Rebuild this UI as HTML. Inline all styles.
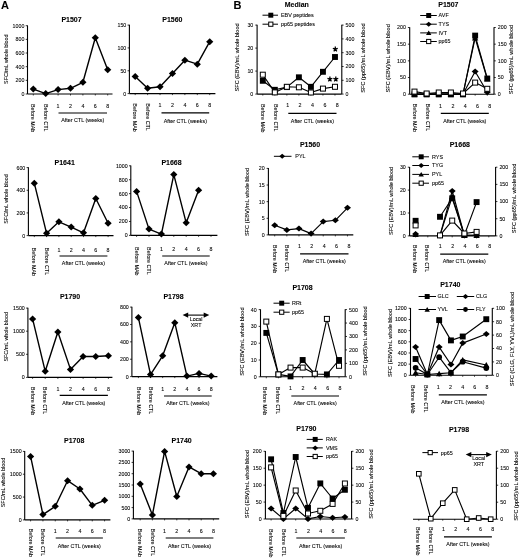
<!DOCTYPE html><html><head><meta charset="utf-8"><style>html,body{margin:0;padding:0;background:#fff;}svg{display:block;}text{font-family:"Liberation Sans",sans-serif;fill:#000;stroke:#000;stroke-width:0.08;}</style></head><body>
<svg width="520" height="558" viewBox="0 0 520 558">
<defs><filter id="bl" x="0" y="0" width="1" height="1" color-interpolation-filters="sRGB"><feGaussianBlur stdDeviation="0.35"/></filter></defs>
<rect width="520" height="558" fill="#fff"/>
<g filter="url(#bl)">
<rect width="520" height="558" fill="#fff"/>
<text x="1.1" y="9" font-size="11" text-anchor="start" font-weight="bold">A</text>
<text x="233.6" y="8.8" font-size="11" text-anchor="start" font-weight="bold">B</text>
<text x="71.5" y="22.12" font-size="7.0" text-anchor="middle" font-weight="bold">P1507</text>
<line x1="27.5" y1="94" x2="27.5" y2="25.4" stroke="#000" stroke-width="1.1"/>
<line x1="25.7" y1="94" x2="27.5" y2="94" stroke="#000" stroke-width="0.8"/>
<text x="24.4" y="95.91" font-size="5.3" text-anchor="end">0</text>
<line x1="25.7" y1="80.34" x2="27.5" y2="80.34" stroke="#000" stroke-width="0.8"/>
<text x="24.4" y="82.25" font-size="5.3" text-anchor="end">200</text>
<line x1="25.7" y1="66.68" x2="27.5" y2="66.68" stroke="#000" stroke-width="0.8"/>
<text x="24.4" y="68.59" font-size="5.3" text-anchor="end">400</text>
<line x1="25.7" y1="53.02" x2="27.5" y2="53.02" stroke="#000" stroke-width="0.8"/>
<text x="24.4" y="54.93" font-size="5.3" text-anchor="end">600</text>
<line x1="25.7" y1="39.36" x2="27.5" y2="39.36" stroke="#000" stroke-width="0.8"/>
<text x="24.4" y="41.27" font-size="5.3" text-anchor="end">800</text>
<line x1="25.7" y1="25.7" x2="27.5" y2="25.7" stroke="#000" stroke-width="0.8"/>
<text x="24.4" y="27.61" font-size="5.3" text-anchor="end">1000</text>
<line x1="27.5" y1="94" x2="112.5" y2="94" stroke="#000" stroke-width="1.1"/>
<line x1="33.3" y1="94" x2="33.3" y2="95.5" stroke="#000" stroke-width="0.7"/>
<line x1="45.7" y1="94" x2="45.7" y2="95.5" stroke="#000" stroke-width="0.7"/>
<line x1="58.1" y1="94" x2="58.1" y2="95.5" stroke="#000" stroke-width="0.7"/>
<line x1="70.5" y1="94" x2="70.5" y2="95.5" stroke="#000" stroke-width="0.7"/>
<line x1="82.9" y1="94" x2="82.9" y2="95.5" stroke="#000" stroke-width="0.7"/>
<line x1="95.3" y1="94" x2="95.3" y2="95.5" stroke="#000" stroke-width="0.7"/>
<line x1="107.7" y1="94" x2="107.7" y2="95.5" stroke="#000" stroke-width="0.7"/>
<text x="31.46" y="103.9" font-size="5.4" text-anchor="start" transform="rotate(90 31.46 103.9)">Before MAb</text>
<text x="43.86" y="103.9" font-size="5.4" text-anchor="start" transform="rotate(90 43.86 103.9)">Before CTL</text>
<text x="58.1" y="107.91" font-size="5.3" text-anchor="middle">1</text>
<text x="70.5" y="107.91" font-size="5.3" text-anchor="middle">2</text>
<text x="82.9" y="107.91" font-size="5.3" text-anchor="middle">4</text>
<text x="95.3" y="107.91" font-size="5.3" text-anchor="middle">6</text>
<text x="107.7" y="107.91" font-size="5.3" text-anchor="middle">8</text>
<line x1="58.5" y1="113" x2="107" y2="113" stroke="#000" stroke-width="1.2"/>
<text x="82.75" y="122.44" font-size="5.4" text-anchor="middle">After CTL (weeks)</text>
<path d="M33.3 89.1L45.7 93.6L58.1 89.6L70.5 88.3L82.9 82.3L95.3 37.7L107.7 69.8" fill="none" stroke="#000" stroke-width="1.4" stroke-linejoin="round"/>
<path d="M29.7 89.1L33.3 85.6L36.9 89.1L33.3 92.6Z" fill="#000"/>
<path d="M42.1 93.6L45.7 90.1L49.3 93.6L45.7 97.1Z" fill="#000"/>
<path d="M54.5 89.6L58.1 86.1L61.7 89.6L58.1 93.1Z" fill="#000"/>
<path d="M66.9 88.3L70.5 84.8L74.1 88.3L70.5 91.8Z" fill="#000"/>
<path d="M79.3 82.3L82.9 78.8L86.5 82.3L82.9 85.8Z" fill="#000"/>
<path d="M91.7 37.7L95.3 34.2L98.9 37.7L95.3 41.2Z" fill="#000"/>
<path d="M104.1 69.8L107.7 66.3L111.3 69.8L107.7 73.3Z" fill="#000"/>
<text x="8.23" y="59.2" font-size="5.35" text-anchor="middle" transform="rotate(-90 8.23 59.2)">SFC/mL whole blood</text>
<text x="172.4" y="22.12" font-size="7.0" text-anchor="middle" font-weight="bold">P1560</text>
<line x1="129.4" y1="93.6" x2="129.4" y2="24.8" stroke="#000" stroke-width="1.1"/>
<line x1="127.6" y1="93.6" x2="129.4" y2="93.6" stroke="#000" stroke-width="0.8"/>
<text x="126.3" y="95.51" font-size="5.3" text-anchor="end">0</text>
<line x1="127.6" y1="70.77" x2="129.4" y2="70.77" stroke="#000" stroke-width="0.8"/>
<text x="126.3" y="72.67" font-size="5.3" text-anchor="end">50</text>
<line x1="127.6" y1="47.93" x2="129.4" y2="47.93" stroke="#000" stroke-width="0.8"/>
<text x="126.3" y="49.84" font-size="5.3" text-anchor="end">100</text>
<line x1="127.6" y1="25.1" x2="129.4" y2="25.1" stroke="#000" stroke-width="0.8"/>
<text x="126.3" y="27.01" font-size="5.3" text-anchor="end">150</text>
<line x1="129.4" y1="93.6" x2="215.4" y2="93.6" stroke="#000" stroke-width="1.1"/>
<line x1="135.2" y1="93.6" x2="135.2" y2="95.1" stroke="#000" stroke-width="0.7"/>
<line x1="147.62" y1="93.6" x2="147.62" y2="95.1" stroke="#000" stroke-width="0.7"/>
<line x1="160.04" y1="93.6" x2="160.04" y2="95.1" stroke="#000" stroke-width="0.7"/>
<line x1="172.46" y1="93.6" x2="172.46" y2="95.1" stroke="#000" stroke-width="0.7"/>
<line x1="184.88" y1="93.6" x2="184.88" y2="95.1" stroke="#000" stroke-width="0.7"/>
<line x1="197.3" y1="93.6" x2="197.3" y2="95.1" stroke="#000" stroke-width="0.7"/>
<line x1="209.72" y1="93.6" x2="209.72" y2="95.1" stroke="#000" stroke-width="0.7"/>
<text x="133.36" y="103.3" font-size="5.4" text-anchor="start" transform="rotate(90 133.36 103.3)">Before MAb</text>
<text x="145.78" y="103.3" font-size="5.4" text-anchor="start" transform="rotate(90 145.78 103.3)">Before CTL</text>
<text x="160.04" y="107.31" font-size="5.3" text-anchor="middle">1</text>
<text x="172.46" y="107.31" font-size="5.3" text-anchor="middle">2</text>
<text x="184.88" y="107.31" font-size="5.3" text-anchor="middle">4</text>
<text x="197.3" y="107.31" font-size="5.3" text-anchor="middle">6</text>
<text x="209.72" y="107.31" font-size="5.3" text-anchor="middle">8</text>
<line x1="161.5" y1="112.9" x2="209.2" y2="112.9" stroke="#000" stroke-width="1.2"/>
<text x="185.35" y="122.94" font-size="5.4" text-anchor="middle">After CTL (weeks)</text>
<path d="M135.2 76.5L147.62 88.3L160.04 86.8L172.46 73.5L184.88 60.2L197.3 64.2L209.72 41.7" fill="none" stroke="#000" stroke-width="1.4" stroke-linejoin="round"/>
<path d="M131.6 76.5L135.2 73L138.8 76.5L135.2 80Z" fill="#000"/>
<path d="M144.02 88.3L147.62 84.8L151.22 88.3L147.62 91.8Z" fill="#000"/>
<path d="M156.44 86.8L160.04 83.3L163.64 86.8L160.04 90.3Z" fill="#000"/>
<path d="M168.86 73.5L172.46 70L176.06 73.5L172.46 77Z" fill="#000"/>
<path d="M181.28 60.2L184.88 56.7L188.48 60.2L184.88 63.7Z" fill="#000"/>
<path d="M193.7 64.2L197.3 60.7L200.9 64.2L197.3 67.7Z" fill="#000"/>
<path d="M206.12 41.7L209.72 38.2L213.32 41.7L209.72 45.2Z" fill="#000"/>
<text x="64.7" y="164.92" font-size="7.0" text-anchor="middle" font-weight="bold">P1641</text>
<line x1="28.4" y1="235.6" x2="28.4" y2="167.3" stroke="#000" stroke-width="1.1"/>
<line x1="26.6" y1="235.6" x2="28.4" y2="235.6" stroke="#000" stroke-width="0.8"/>
<text x="25.3" y="237.51" font-size="5.3" text-anchor="end">0</text>
<line x1="26.6" y1="212.93" x2="28.4" y2="212.93" stroke="#000" stroke-width="0.8"/>
<text x="25.3" y="214.84" font-size="5.3" text-anchor="end">200</text>
<line x1="26.6" y1="190.27" x2="28.4" y2="190.27" stroke="#000" stroke-width="0.8"/>
<text x="25.3" y="192.17" font-size="5.3" text-anchor="end">400</text>
<line x1="26.6" y1="167.6" x2="28.4" y2="167.6" stroke="#000" stroke-width="0.8"/>
<text x="25.3" y="169.51" font-size="5.3" text-anchor="end">600</text>
<line x1="28.4" y1="235.6" x2="113.5" y2="235.6" stroke="#000" stroke-width="1.1"/>
<line x1="34.3" y1="235.6" x2="34.3" y2="237.1" stroke="#000" stroke-width="0.7"/>
<line x1="46.6" y1="235.6" x2="46.6" y2="237.1" stroke="#000" stroke-width="0.7"/>
<line x1="58.9" y1="235.6" x2="58.9" y2="237.1" stroke="#000" stroke-width="0.7"/>
<line x1="71.2" y1="235.6" x2="71.2" y2="237.1" stroke="#000" stroke-width="0.7"/>
<line x1="83.5" y1="235.6" x2="83.5" y2="237.1" stroke="#000" stroke-width="0.7"/>
<line x1="95.8" y1="235.6" x2="95.8" y2="237.1" stroke="#000" stroke-width="0.7"/>
<line x1="108.1" y1="235.6" x2="108.1" y2="237.1" stroke="#000" stroke-width="0.7"/>
<text x="32.46" y="247.6" font-size="5.4" text-anchor="start" transform="rotate(90 32.46 247.6)">Before MAb</text>
<text x="44.76" y="247.6" font-size="5.4" text-anchor="start" transform="rotate(90 44.76 247.6)">Before CTL</text>
<text x="58.9" y="251.61" font-size="5.3" text-anchor="middle">1</text>
<text x="71.2" y="251.61" font-size="5.3" text-anchor="middle">2</text>
<text x="83.5" y="251.61" font-size="5.3" text-anchor="middle">4</text>
<text x="95.8" y="251.61" font-size="5.3" text-anchor="middle">6</text>
<text x="108.1" y="251.61" font-size="5.3" text-anchor="middle">8</text>
<line x1="59.5" y1="256" x2="107.4" y2="256" stroke="#000" stroke-width="1.2"/>
<text x="83.45" y="265.44" font-size="5.4" text-anchor="middle">After CTL (weeks)</text>
<path d="M34.3 183.2L46.6 233.3L58.9 221.8L71.2 227.1L83.5 232.8L95.8 198.5L108.1 223.3" fill="none" stroke="#000" stroke-width="1.4" stroke-linejoin="round"/>
<path d="M30.7 183.2L34.3 179.7L37.9 183.2L34.3 186.7Z" fill="#000"/>
<path d="M43 233.3L46.6 229.8L50.2 233.3L46.6 236.8Z" fill="#000"/>
<path d="M55.3 221.8L58.9 218.3L62.5 221.8L58.9 225.3Z" fill="#000"/>
<path d="M67.6 227.1L71.2 223.6L74.8 227.1L71.2 230.6Z" fill="#000"/>
<path d="M79.9 232.8L83.5 229.3L87.1 232.8L83.5 236.3Z" fill="#000"/>
<path d="M92.2 198.5L95.8 195L99.4 198.5L95.8 202Z" fill="#000"/>
<path d="M104.5 223.3L108.1 219.8L111.7 223.3L108.1 226.8Z" fill="#000"/>
<text x="8.33" y="199" font-size="5.35" text-anchor="middle" transform="rotate(-90 8.33 199)">SFC/mL whole blood</text>
<text x="171.5" y="165.12" font-size="7.0" text-anchor="middle" font-weight="bold">P1668</text>
<line x1="130.8" y1="235.4" x2="130.8" y2="165.5" stroke="#000" stroke-width="1.1"/>
<line x1="129" y1="235.4" x2="130.8" y2="235.4" stroke="#000" stroke-width="0.8"/>
<text x="127.7" y="237.31" font-size="5.3" text-anchor="end">0</text>
<line x1="129" y1="221.48" x2="130.8" y2="221.48" stroke="#000" stroke-width="0.8"/>
<text x="127.7" y="223.39" font-size="5.3" text-anchor="end">200</text>
<line x1="129" y1="207.56" x2="130.8" y2="207.56" stroke="#000" stroke-width="0.8"/>
<text x="127.7" y="209.47" font-size="5.3" text-anchor="end">400</text>
<line x1="129" y1="193.64" x2="130.8" y2="193.64" stroke="#000" stroke-width="0.8"/>
<text x="127.7" y="195.55" font-size="5.3" text-anchor="end">600</text>
<line x1="129" y1="179.72" x2="130.8" y2="179.72" stroke="#000" stroke-width="0.8"/>
<text x="127.7" y="181.63" font-size="5.3" text-anchor="end">800</text>
<line x1="129" y1="165.8" x2="130.8" y2="165.8" stroke="#000" stroke-width="0.8"/>
<text x="127.7" y="167.71" font-size="5.3" text-anchor="end">1000</text>
<line x1="130.8" y1="235.4" x2="217.4" y2="235.4" stroke="#000" stroke-width="1.1"/>
<line x1="136.6" y1="235.4" x2="136.6" y2="236.9" stroke="#000" stroke-width="0.7"/>
<line x1="149" y1="235.4" x2="149" y2="236.9" stroke="#000" stroke-width="0.7"/>
<line x1="161.4" y1="235.4" x2="161.4" y2="236.9" stroke="#000" stroke-width="0.7"/>
<line x1="173.8" y1="235.4" x2="173.8" y2="236.9" stroke="#000" stroke-width="0.7"/>
<line x1="186.2" y1="235.4" x2="186.2" y2="236.9" stroke="#000" stroke-width="0.7"/>
<line x1="198.6" y1="235.4" x2="198.6" y2="236.9" stroke="#000" stroke-width="0.7"/>
<line x1="211" y1="235.4" x2="211" y2="236.9" stroke="#000" stroke-width="0.7"/>
<text x="134.76" y="247.1" font-size="5.4" text-anchor="start" transform="rotate(90 134.76 247.1)">Before MAb</text>
<text x="147.16" y="247.1" font-size="5.4" text-anchor="start" transform="rotate(90 147.16 247.1)">Before CTL</text>
<text x="161.4" y="251.11" font-size="5.3" text-anchor="middle">1</text>
<text x="173.8" y="251.11" font-size="5.3" text-anchor="middle">2</text>
<text x="186.2" y="251.11" font-size="5.3" text-anchor="middle">4</text>
<text x="198.6" y="251.11" font-size="5.3" text-anchor="middle">6</text>
<text x="211" y="251.11" font-size="5.3" text-anchor="middle">8</text>
<line x1="162.2" y1="256" x2="209.7" y2="256" stroke="#000" stroke-width="1.2"/>
<text x="185.95" y="265.44" font-size="5.4" text-anchor="middle">After CTL (weeks)</text>
<path d="M136.6 191.4L149 229.1L161.4 234.1L173.8 174.6L186.2 222.8L198.6 190.2" fill="none" stroke="#000" stroke-width="1.4" stroke-linejoin="round"/>
<path d="M133 191.4L136.6 187.9L140.2 191.4L136.6 194.9Z" fill="#000"/>
<path d="M145.4 229.1L149 225.6L152.6 229.1L149 232.6Z" fill="#000"/>
<path d="M157.8 234.1L161.4 230.6L165 234.1L161.4 237.6Z" fill="#000"/>
<path d="M170.2 174.6L173.8 171.1L177.4 174.6L173.8 178.1Z" fill="#000"/>
<path d="M182.6 222.8L186.2 219.3L189.8 222.8L186.2 226.3Z" fill="#000"/>
<path d="M195 190.2L198.6 186.7L202.2 190.2L198.6 193.7Z" fill="#000"/>
<text x="70" y="298.82" font-size="7.0" text-anchor="middle" font-weight="bold">P1790</text>
<line x1="27.9" y1="377.4" x2="27.9" y2="307.8" stroke="#000" stroke-width="1.1"/>
<line x1="26.1" y1="377.4" x2="27.9" y2="377.4" stroke="#000" stroke-width="0.8"/>
<text x="24.8" y="379.31" font-size="5.3" text-anchor="end">0</text>
<line x1="26.1" y1="354.3" x2="27.9" y2="354.3" stroke="#000" stroke-width="0.8"/>
<text x="24.8" y="356.21" font-size="5.3" text-anchor="end">500</text>
<line x1="26.1" y1="331.2" x2="27.9" y2="331.2" stroke="#000" stroke-width="0.8"/>
<text x="24.8" y="333.11" font-size="5.3" text-anchor="end">1000</text>
<line x1="26.1" y1="308.1" x2="27.9" y2="308.1" stroke="#000" stroke-width="0.8"/>
<text x="24.8" y="310.01" font-size="5.3" text-anchor="end">1500</text>
<line x1="27.9" y1="377.4" x2="112.4" y2="377.4" stroke="#000" stroke-width="1.1"/>
<line x1="32.6" y1="377.4" x2="32.6" y2="378.9" stroke="#000" stroke-width="0.7"/>
<line x1="45.23" y1="377.4" x2="45.23" y2="378.9" stroke="#000" stroke-width="0.7"/>
<line x1="57.86" y1="377.4" x2="57.86" y2="378.9" stroke="#000" stroke-width="0.7"/>
<line x1="70.49" y1="377.4" x2="70.49" y2="378.9" stroke="#000" stroke-width="0.7"/>
<line x1="83.12" y1="377.4" x2="83.12" y2="378.9" stroke="#000" stroke-width="0.7"/>
<line x1="95.75" y1="377.4" x2="95.75" y2="378.9" stroke="#000" stroke-width="0.7"/>
<line x1="108.38" y1="377.4" x2="108.38" y2="378.9" stroke="#000" stroke-width="0.7"/>
<text x="30.76" y="386.8" font-size="5.4" text-anchor="start" transform="rotate(90 30.76 386.8)">Before MAb</text>
<text x="43.39" y="386.8" font-size="5.4" text-anchor="start" transform="rotate(90 43.39 386.8)">Before CTL</text>
<text x="57.86" y="390.81" font-size="5.3" text-anchor="middle">1</text>
<text x="70.49" y="390.81" font-size="5.3" text-anchor="middle">2</text>
<text x="83.12" y="390.81" font-size="5.3" text-anchor="middle">4</text>
<text x="95.75" y="390.81" font-size="5.3" text-anchor="middle">6</text>
<text x="108.38" y="390.81" font-size="5.3" text-anchor="middle">8</text>
<line x1="59.7" y1="395.4" x2="107.9" y2="395.4" stroke="#000" stroke-width="1.2"/>
<text x="83.8" y="404.94" font-size="5.4" text-anchor="middle">After CTL (weeks)</text>
<path d="M32.6 318.9L45.23 371.3L57.86 332L70.49 369.4L83.12 356.5L95.75 356.5L108.38 355.8" fill="none" stroke="#000" stroke-width="1.4" stroke-linejoin="round"/>
<path d="M29 318.9L32.6 315.4L36.2 318.9L32.6 322.4Z" fill="#000"/>
<path d="M41.63 371.3L45.23 367.8L48.83 371.3L45.23 374.8Z" fill="#000"/>
<path d="M54.26 332L57.86 328.5L61.46 332L57.86 335.5Z" fill="#000"/>
<path d="M66.89 369.4L70.49 365.9L74.09 369.4L70.49 372.9Z" fill="#000"/>
<path d="M79.52 356.5L83.12 353L86.72 356.5L83.12 360Z" fill="#000"/>
<path d="M92.15 356.5L95.75 353L99.35 356.5L95.75 360Z" fill="#000"/>
<path d="M104.78 355.8L108.38 352.3L111.98 355.8L108.38 359.3Z" fill="#000"/>
<text x="7.93" y="336.8" font-size="5.35" text-anchor="middle" transform="rotate(-90 7.93 336.8)">SFC/mL whole blood</text>
<text x="173.5" y="298.82" font-size="7.0" text-anchor="middle" font-weight="bold">P1798</text>
<line x1="131.9" y1="376.6" x2="131.9" y2="306.8" stroke="#000" stroke-width="1.1"/>
<line x1="130.1" y1="376.6" x2="131.9" y2="376.6" stroke="#000" stroke-width="0.8"/>
<text x="128.8" y="378.51" font-size="5.3" text-anchor="end">0</text>
<line x1="130.1" y1="359.23" x2="131.9" y2="359.23" stroke="#000" stroke-width="0.8"/>
<text x="128.8" y="361.13" font-size="5.3" text-anchor="end">200</text>
<line x1="130.1" y1="341.85" x2="131.9" y2="341.85" stroke="#000" stroke-width="0.8"/>
<text x="128.8" y="343.76" font-size="5.3" text-anchor="end">400</text>
<line x1="130.1" y1="324.48" x2="131.9" y2="324.48" stroke="#000" stroke-width="0.8"/>
<text x="128.8" y="326.38" font-size="5.3" text-anchor="end">600</text>
<line x1="130.1" y1="307.1" x2="131.9" y2="307.1" stroke="#000" stroke-width="0.8"/>
<text x="128.8" y="309.01" font-size="5.3" text-anchor="end">800</text>
<line x1="131.9" y1="376.6" x2="217.4" y2="376.6" stroke="#000" stroke-width="1.1"/>
<line x1="138.4" y1="376.6" x2="138.4" y2="378.1" stroke="#000" stroke-width="0.7"/>
<line x1="150.53" y1="376.6" x2="150.53" y2="378.1" stroke="#000" stroke-width="0.7"/>
<line x1="162.66" y1="376.6" x2="162.66" y2="378.1" stroke="#000" stroke-width="0.7"/>
<line x1="174.79" y1="376.6" x2="174.79" y2="378.1" stroke="#000" stroke-width="0.7"/>
<line x1="186.92" y1="376.6" x2="186.92" y2="378.1" stroke="#000" stroke-width="0.7"/>
<line x1="199.05" y1="376.6" x2="199.05" y2="378.1" stroke="#000" stroke-width="0.7"/>
<line x1="211.18" y1="376.6" x2="211.18" y2="378.1" stroke="#000" stroke-width="0.7"/>
<text x="136.56" y="386.8" font-size="5.4" text-anchor="start" transform="rotate(90 136.56 386.8)">Before MAb</text>
<text x="148.69" y="386.8" font-size="5.4" text-anchor="start" transform="rotate(90 148.69 386.8)">Before CTL</text>
<text x="162.66" y="390.81" font-size="5.3" text-anchor="middle">1</text>
<text x="174.79" y="390.81" font-size="5.3" text-anchor="middle">2</text>
<text x="186.92" y="390.81" font-size="5.3" text-anchor="middle">4</text>
<text x="199.05" y="390.81" font-size="5.3" text-anchor="middle">6</text>
<text x="211.18" y="390.81" font-size="5.3" text-anchor="middle">8</text>
<line x1="164" y1="396" x2="211.7" y2="396" stroke="#000" stroke-width="1.2"/>
<text x="187.85" y="405.44" font-size="5.4" text-anchor="middle">After CTL (weeks)</text>
<path d="M138.4 317.6L150.53 374.6L162.66 355.8L174.79 322.7L186.92 376.1L199.05 373.4L211.18 376.1" fill="none" stroke="#000" stroke-width="1.4" stroke-linejoin="round"/>
<path d="M134.8 317.6L138.4 314.1L142 317.6L138.4 321.1Z" fill="#000"/>
<path d="M146.93 374.6L150.53 371.1L154.13 374.6L150.53 378.1Z" fill="#000"/>
<path d="M159.06 355.8L162.66 352.3L166.26 355.8L162.66 359.3Z" fill="#000"/>
<path d="M171.19 322.7L174.79 319.2L178.39 322.7L174.79 326.2Z" fill="#000"/>
<path d="M183.32 376.1L186.92 372.6L190.52 376.1L186.92 379.6Z" fill="#000"/>
<path d="M195.45 373.4L199.05 369.9L202.65 373.4L199.05 376.9Z" fill="#000"/>
<path d="M207.58 376.1L211.18 372.6L214.78 376.1L211.18 379.6Z" fill="#000"/>
<line x1="185.6" y1="315.1" x2="206.3" y2="315.1" stroke="#000" stroke-width="1.1"/>
<path d="M182.6 315.1L188.2 312.45L188.2 317.75Z" fill="#000"/>
<path d="M209.3 315.1L203.7 312.45L203.7 317.75Z" fill="#000"/>
<text x="196.1" y="321.14" font-size="5.4" text-anchor="middle">Local</text>
<text x="196.1" y="326.84" font-size="5.4" text-anchor="middle">XRT</text>
<text x="74.2" y="443.12" font-size="7.0" text-anchor="middle" font-weight="bold">P1708</text>
<line x1="24.7" y1="519.9" x2="24.7" y2="451.1" stroke="#000" stroke-width="1.1"/>
<line x1="22.9" y1="519.9" x2="24.7" y2="519.9" stroke="#000" stroke-width="0.8"/>
<text x="21.6" y="521.81" font-size="5.3" text-anchor="end">0</text>
<line x1="22.9" y1="497.07" x2="24.7" y2="497.07" stroke="#000" stroke-width="0.8"/>
<text x="21.6" y="498.97" font-size="5.3" text-anchor="end">500</text>
<line x1="22.9" y1="474.23" x2="24.7" y2="474.23" stroke="#000" stroke-width="0.8"/>
<text x="21.6" y="476.14" font-size="5.3" text-anchor="end">1000</text>
<line x1="22.9" y1="451.4" x2="24.7" y2="451.4" stroke="#000" stroke-width="0.8"/>
<text x="21.6" y="453.31" font-size="5.3" text-anchor="end">1500</text>
<line x1="24.7" y1="519.9" x2="110.4" y2="519.9" stroke="#000" stroke-width="1.1"/>
<line x1="30.6" y1="519.9" x2="30.6" y2="521.4" stroke="#000" stroke-width="0.7"/>
<line x1="42.93" y1="519.9" x2="42.93" y2="521.4" stroke="#000" stroke-width="0.7"/>
<line x1="55.26" y1="519.9" x2="55.26" y2="521.4" stroke="#000" stroke-width="0.7"/>
<line x1="67.59" y1="519.9" x2="67.59" y2="521.4" stroke="#000" stroke-width="0.7"/>
<line x1="79.92" y1="519.9" x2="79.92" y2="521.4" stroke="#000" stroke-width="0.7"/>
<line x1="92.25" y1="519.9" x2="92.25" y2="521.4" stroke="#000" stroke-width="0.7"/>
<line x1="104.58" y1="519.9" x2="104.58" y2="521.4" stroke="#000" stroke-width="0.7"/>
<text x="28.76" y="528.6" font-size="5.4" text-anchor="start" transform="rotate(90 28.76 528.6)">Before MAb</text>
<text x="41.09" y="528.6" font-size="5.4" text-anchor="start" transform="rotate(90 41.09 528.6)">Before CTL</text>
<text x="55.26" y="532.61" font-size="5.3" text-anchor="middle">1</text>
<text x="67.59" y="532.61" font-size="5.3" text-anchor="middle">2</text>
<text x="79.92" y="532.61" font-size="5.3" text-anchor="middle">4</text>
<text x="92.25" y="532.61" font-size="5.3" text-anchor="middle">6</text>
<text x="104.58" y="532.61" font-size="5.3" text-anchor="middle">8</text>
<line x1="55.7" y1="538" x2="102.9" y2="538" stroke="#000" stroke-width="1.2"/>
<text x="79.3" y="547.94" font-size="5.4" text-anchor="middle">After CTL (weeks)</text>
<path d="M30.6 456.4L42.93 514.6L55.26 506.3L67.59 480.7L79.92 489L92.25 505.3L104.58 500.3" fill="none" stroke="#000" stroke-width="1.4" stroke-linejoin="round"/>
<path d="M27 456.4L30.6 452.9L34.2 456.4L30.6 459.9Z" fill="#000"/>
<path d="M39.33 514.6L42.93 511.1L46.53 514.6L42.93 518.1Z" fill="#000"/>
<path d="M51.66 506.3L55.26 502.8L58.86 506.3L55.26 509.8Z" fill="#000"/>
<path d="M63.99 480.7L67.59 477.2L71.19 480.7L67.59 484.2Z" fill="#000"/>
<path d="M76.32 489L79.92 485.5L83.52 489L79.92 492.5Z" fill="#000"/>
<path d="M88.65 505.3L92.25 501.8L95.85 505.3L92.25 508.8Z" fill="#000"/>
<path d="M100.98 500.3L104.58 496.8L108.18 500.3L104.58 503.8Z" fill="#000"/>
<text x="5.33" y="482.5" font-size="5.35" text-anchor="middle" transform="rotate(-90 5.33 482.5)">SFC/mL whole blood</text>
<text x="181.6" y="443.12" font-size="7.0" text-anchor="middle" font-weight="bold">P1740</text>
<line x1="133.4" y1="518.9" x2="133.4" y2="450.8" stroke="#000" stroke-width="1.1"/>
<line x1="131.6" y1="518.9" x2="133.4" y2="518.9" stroke="#000" stroke-width="0.8"/>
<text x="130.3" y="520.81" font-size="5.3" text-anchor="end">0</text>
<line x1="131.6" y1="507.6" x2="133.4" y2="507.6" stroke="#000" stroke-width="0.8"/>
<text x="130.3" y="509.51" font-size="5.3" text-anchor="end">500</text>
<line x1="131.6" y1="496.3" x2="133.4" y2="496.3" stroke="#000" stroke-width="0.8"/>
<text x="130.3" y="498.21" font-size="5.3" text-anchor="end">1000</text>
<line x1="131.6" y1="485" x2="133.4" y2="485" stroke="#000" stroke-width="0.8"/>
<text x="130.3" y="486.91" font-size="5.3" text-anchor="end">1500</text>
<line x1="131.6" y1="473.7" x2="133.4" y2="473.7" stroke="#000" stroke-width="0.8"/>
<text x="130.3" y="475.61" font-size="5.3" text-anchor="end">2000</text>
<line x1="131.6" y1="462.4" x2="133.4" y2="462.4" stroke="#000" stroke-width="0.8"/>
<text x="130.3" y="464.31" font-size="5.3" text-anchor="end">2500</text>
<line x1="131.6" y1="451.1" x2="133.4" y2="451.1" stroke="#000" stroke-width="0.8"/>
<text x="130.3" y="453.01" font-size="5.3" text-anchor="end">3000</text>
<line x1="133.4" y1="518.9" x2="219.2" y2="518.9" stroke="#000" stroke-width="1.1"/>
<line x1="140.2" y1="518.9" x2="140.2" y2="520.4" stroke="#000" stroke-width="0.7"/>
<line x1="152.4" y1="518.9" x2="152.4" y2="520.4" stroke="#000" stroke-width="0.7"/>
<line x1="164.6" y1="518.9" x2="164.6" y2="520.4" stroke="#000" stroke-width="0.7"/>
<line x1="176.8" y1="518.9" x2="176.8" y2="520.4" stroke="#000" stroke-width="0.7"/>
<line x1="189" y1="518.9" x2="189" y2="520.4" stroke="#000" stroke-width="0.7"/>
<line x1="201.2" y1="518.9" x2="201.2" y2="520.4" stroke="#000" stroke-width="0.7"/>
<line x1="213.4" y1="518.9" x2="213.4" y2="520.4" stroke="#000" stroke-width="0.7"/>
<text x="138.36" y="528.6" font-size="5.4" text-anchor="start" transform="rotate(90 138.36 528.6)">Before MAb</text>
<text x="150.56" y="528.6" font-size="5.4" text-anchor="start" transform="rotate(90 150.56 528.6)">Before CTL</text>
<text x="164.6" y="532.61" font-size="5.3" text-anchor="middle">1</text>
<text x="176.8" y="532.61" font-size="5.3" text-anchor="middle">2</text>
<text x="189" y="532.61" font-size="5.3" text-anchor="middle">4</text>
<text x="201.2" y="532.61" font-size="5.3" text-anchor="middle">6</text>
<text x="213.4" y="532.61" font-size="5.3" text-anchor="middle">8</text>
<line x1="165.7" y1="538" x2="213.4" y2="538" stroke="#000" stroke-width="1.2"/>
<text x="189.55" y="547.94" font-size="5.4" text-anchor="middle">After CTL (weeks)</text>
<path d="M140.2 484L152.4 514.9L164.6 451.4L176.8 496.5L189 466.9L201.2 473.7L213.4 473.7" fill="none" stroke="#000" stroke-width="1.4" stroke-linejoin="round"/>
<path d="M136.6 484L140.2 480.5L143.8 484L140.2 487.5Z" fill="#000"/>
<path d="M148.8 514.9L152.4 511.4L156 514.9L152.4 518.4Z" fill="#000"/>
<path d="M161 451.4L164.6 447.9L168.2 451.4L164.6 454.9Z" fill="#000"/>
<path d="M173.2 496.5L176.8 493L180.4 496.5L176.8 500Z" fill="#000"/>
<path d="M185.4 466.9L189 463.4L192.6 466.9L189 470.4Z" fill="#000"/>
<path d="M197.6 473.7L201.2 470.2L204.8 473.7L201.2 477.2Z" fill="#000"/>
<path d="M209.8 473.7L213.4 470.2L217 473.7L213.4 477.2Z" fill="#000"/>
<text x="296.8" y="6.92" font-size="7.0" text-anchor="middle" font-weight="bold">Median</text>
<line x1="257.1" y1="94.1" x2="257.1" y2="24.8" stroke="#000" stroke-width="1.1"/>
<line x1="255.3" y1="94.1" x2="257.1" y2="94.1" stroke="#000" stroke-width="0.8"/>
<text x="253.3" y="96.01" font-size="5.3" text-anchor="end">0</text>
<line x1="255.3" y1="71.1" x2="257.1" y2="71.1" stroke="#000" stroke-width="0.8"/>
<text x="253.3" y="73.01" font-size="5.3" text-anchor="end">10</text>
<line x1="255.3" y1="48.1" x2="257.1" y2="48.1" stroke="#000" stroke-width="0.8"/>
<text x="253.3" y="50.01" font-size="5.3" text-anchor="end">20</text>
<line x1="255.3" y1="25.1" x2="257.1" y2="25.1" stroke="#000" stroke-width="0.8"/>
<text x="253.3" y="27.01" font-size="5.3" text-anchor="end">30</text>
<line x1="341.8" y1="94.1" x2="341.8" y2="24.8" stroke="#000" stroke-width="1.1"/>
<line x1="341.8" y1="94.1" x2="343.6" y2="94.1" stroke="#000" stroke-width="0.8"/>
<text x="345.6" y="96.01" font-size="5.3" text-anchor="start">0</text>
<line x1="341.8" y1="80.3" x2="343.6" y2="80.3" stroke="#000" stroke-width="0.8"/>
<text x="345.6" y="82.21" font-size="5.3" text-anchor="start">100</text>
<line x1="341.8" y1="66.5" x2="343.6" y2="66.5" stroke="#000" stroke-width="0.8"/>
<text x="345.6" y="68.41" font-size="5.3" text-anchor="start">200</text>
<line x1="341.8" y1="52.7" x2="343.6" y2="52.7" stroke="#000" stroke-width="0.8"/>
<text x="345.6" y="54.61" font-size="5.3" text-anchor="start">300</text>
<line x1="341.8" y1="38.9" x2="343.6" y2="38.9" stroke="#000" stroke-width="0.8"/>
<text x="345.6" y="40.81" font-size="5.3" text-anchor="start">400</text>
<line x1="341.8" y1="25.1" x2="343.6" y2="25.1" stroke="#000" stroke-width="0.8"/>
<text x="345.6" y="27.01" font-size="5.3" text-anchor="start">500</text>
<line x1="257.1" y1="94.1" x2="341.8" y2="94.1" stroke="#000" stroke-width="1.1"/>
<line x1="262.8" y1="94.1" x2="262.8" y2="95.6" stroke="#000" stroke-width="0.7"/>
<line x1="274.83" y1="94.1" x2="274.83" y2="95.6" stroke="#000" stroke-width="0.7"/>
<line x1="286.86" y1="94.1" x2="286.86" y2="95.6" stroke="#000" stroke-width="0.7"/>
<line x1="298.89" y1="94.1" x2="298.89" y2="95.6" stroke="#000" stroke-width="0.7"/>
<line x1="310.92" y1="94.1" x2="310.92" y2="95.6" stroke="#000" stroke-width="0.7"/>
<line x1="322.95" y1="94.1" x2="322.95" y2="95.6" stroke="#000" stroke-width="0.7"/>
<line x1="334.98" y1="94.1" x2="334.98" y2="95.6" stroke="#000" stroke-width="0.7"/>
<text x="260.66" y="104" font-size="5.4" text-anchor="start" transform="rotate(90 260.66 104)">Before MAb</text>
<text x="273.66" y="104" font-size="5.4" text-anchor="start" transform="rotate(90 273.66 104)">Before CTL</text>
<text x="287.7" y="107.31" font-size="5.3" text-anchor="middle">1</text>
<text x="300.1" y="107.31" font-size="5.3" text-anchor="middle">2</text>
<text x="312.5" y="107.31" font-size="5.3" text-anchor="middle">4</text>
<text x="324.9" y="107.31" font-size="5.3" text-anchor="middle">6</text>
<text x="337.3" y="107.31" font-size="5.3" text-anchor="middle">8</text>
<line x1="288.3" y1="113.3" x2="336.5" y2="113.3" stroke="#000" stroke-width="1.2"/>
<text x="312.4" y="122.54" font-size="5.4" text-anchor="middle">After CTL (weeks)</text>
<path d="M262.8 80.8L274.83 89.8L286.86 87.1L298.89 77.3L310.92 86.8L322.95 71.8L334.98 57" fill="none" stroke="#000" stroke-width="1.15" stroke-linejoin="round"/>
<path d="M262.8 74.7L274.83 92.4L286.86 86.8L298.89 87.3L310.92 92.5L322.95 88.6L334.98 86.8" fill="none" stroke="#000" stroke-width="1.15" stroke-linejoin="round"/>
<rect x="259.85" y="77.85" width="5.9" height="5.9" fill="#000"/>
<rect x="271.88" y="86.85" width="5.9" height="5.9" fill="#000"/>
<rect x="283.91" y="84.15" width="5.9" height="5.9" fill="#000"/>
<rect x="295.94" y="74.35" width="5.9" height="5.9" fill="#000"/>
<rect x="307.97" y="83.85" width="5.9" height="5.9" fill="#000"/>
<rect x="320" y="68.85" width="5.9" height="5.9" fill="#000"/>
<rect x="332.03" y="54.05" width="5.9" height="5.9" fill="#000"/>
<rect x="260.3" y="72.2" width="5" height="5" fill="#fff" stroke="#000" stroke-width="1.0"/>
<rect x="272.33" y="89.9" width="5" height="5" fill="#fff" stroke="#000" stroke-width="1.0"/>
<rect x="284.36" y="84.3" width="5" height="5" fill="#fff" stroke="#000" stroke-width="1.0"/>
<rect x="296.39" y="84.8" width="5" height="5" fill="#fff" stroke="#000" stroke-width="1.0"/>
<rect x="308.42" y="90" width="5" height="5" fill="#fff" stroke="#000" stroke-width="1.0"/>
<rect x="320.45" y="86.1" width="5" height="5" fill="#fff" stroke="#000" stroke-width="1.0"/>
<rect x="332.48" y="84.3" width="5" height="5" fill="#fff" stroke="#000" stroke-width="1.0"/>
<line x1="262.5" y1="15.2" x2="278" y2="15.2" stroke="#000" stroke-width="1.0"/>
<rect x="268.32" y="12.72" width="4.96" height="4.96" fill="#000"/>
<text x="281" y="17.14" font-size="5.4" text-anchor="start">EBV peptides</text>
<line x1="262.5" y1="24.2" x2="278" y2="24.2" stroke="#000" stroke-width="1.0"/>
<rect x="268.7" y="22.1" width="4.2" height="4.2" fill="#fff" stroke="#000" stroke-width="1.0"/>
<text x="281" y="26.14" font-size="5.4" text-anchor="start">pp65 peptides</text>
<text x="239.42" y="57.4" font-size="5.6" text-anchor="middle" transform="rotate(-90 239.42 57.4)">SFC (EBV)/mL whole blood</text>
<text x="364.92" y="58" font-size="5.6" text-anchor="middle" transform="rotate(-90 364.92 58)">SFC (pp65)/mL whole blood</text>
<path d="M335.3 49.2L335.3 46.6M335.3 49.2L337.77 48.4M335.3 49.2L336.83 51.3M335.3 49.2L333.77 51.3M335.3 49.2L332.83 48.4" stroke="#000" stroke-width="1.3" stroke-linecap="butt" fill="none"/>
<path d="M329.9 79.2L329.9 76.6M329.9 79.2L332.37 78.4M329.9 79.2L331.43 81.3M329.9 79.2L328.37 81.3M329.9 79.2L327.43 78.4" stroke="#000" stroke-width="1.3" stroke-linecap="butt" fill="none"/>
<path d="M335.8 79.2L335.8 76.6M335.8 79.2L338.27 78.4M335.8 79.2L337.33 81.3M335.8 79.2L334.27 81.3M335.8 79.2L333.33 78.4" stroke="#000" stroke-width="1.3" stroke-linecap="butt" fill="none"/>
<text x="448.4" y="6.52" font-size="7.0" text-anchor="middle" font-weight="bold">P1507</text>
<line x1="409.7" y1="94.2" x2="409.7" y2="27.2" stroke="#000" stroke-width="1.1"/>
<line x1="407.9" y1="94.2" x2="409.7" y2="94.2" stroke="#000" stroke-width="0.8"/>
<text x="405.9" y="96.11" font-size="5.3" text-anchor="end">0</text>
<line x1="407.9" y1="77.53" x2="409.7" y2="77.53" stroke="#000" stroke-width="0.8"/>
<text x="405.9" y="79.43" font-size="5.3" text-anchor="end">50</text>
<line x1="407.9" y1="60.85" x2="409.7" y2="60.85" stroke="#000" stroke-width="0.8"/>
<text x="405.9" y="62.76" font-size="5.3" text-anchor="end">100</text>
<line x1="407.9" y1="44.17" x2="409.7" y2="44.17" stroke="#000" stroke-width="0.8"/>
<text x="405.9" y="46.08" font-size="5.3" text-anchor="end">150</text>
<line x1="407.9" y1="27.5" x2="409.7" y2="27.5" stroke="#000" stroke-width="0.8"/>
<text x="405.9" y="29.41" font-size="5.3" text-anchor="end">200</text>
<line x1="494" y1="94.2" x2="494" y2="27.2" stroke="#000" stroke-width="1.1"/>
<line x1="494" y1="94.2" x2="495.8" y2="94.2" stroke="#000" stroke-width="0.8"/>
<text x="497.8" y="96.11" font-size="5.3" text-anchor="start">0</text>
<line x1="494" y1="77.53" x2="495.8" y2="77.53" stroke="#000" stroke-width="0.8"/>
<text x="497.8" y="79.43" font-size="5.3" text-anchor="start">50</text>
<line x1="494" y1="60.85" x2="495.8" y2="60.85" stroke="#000" stroke-width="0.8"/>
<text x="497.8" y="62.76" font-size="5.3" text-anchor="start">100</text>
<line x1="494" y1="44.17" x2="495.8" y2="44.17" stroke="#000" stroke-width="0.8"/>
<text x="497.8" y="46.08" font-size="5.3" text-anchor="start">150</text>
<line x1="494" y1="27.5" x2="495.8" y2="27.5" stroke="#000" stroke-width="0.8"/>
<text x="497.8" y="29.41" font-size="5.3" text-anchor="start">200</text>
<line x1="409.7" y1="94.2" x2="494" y2="94.2" stroke="#000" stroke-width="1.1"/>
<line x1="414.5" y1="94.2" x2="414.5" y2="95.7" stroke="#000" stroke-width="0.7"/>
<line x1="426.63" y1="94.2" x2="426.63" y2="95.7" stroke="#000" stroke-width="0.7"/>
<line x1="438.76" y1="94.2" x2="438.76" y2="95.7" stroke="#000" stroke-width="0.7"/>
<line x1="450.89" y1="94.2" x2="450.89" y2="95.7" stroke="#000" stroke-width="0.7"/>
<line x1="463.02" y1="94.2" x2="463.02" y2="95.7" stroke="#000" stroke-width="0.7"/>
<line x1="475.15" y1="94.2" x2="475.15" y2="95.7" stroke="#000" stroke-width="0.7"/>
<line x1="487.28" y1="94.2" x2="487.28" y2="95.7" stroke="#000" stroke-width="0.7"/>
<text x="412.86" y="103.6" font-size="5.4" text-anchor="start" transform="rotate(90 412.86 103.6)">Before MAb</text>
<text x="425.76" y="103.6" font-size="5.4" text-anchor="start" transform="rotate(90 425.76 103.6)">Before CTL</text>
<text x="440.6" y="107.51" font-size="5.3" text-anchor="middle">1</text>
<text x="452.9" y="107.51" font-size="5.3" text-anchor="middle">2</text>
<text x="465.2" y="107.51" font-size="5.3" text-anchor="middle">4</text>
<text x="477.5" y="107.51" font-size="5.3" text-anchor="middle">6</text>
<text x="489.8" y="107.51" font-size="5.3" text-anchor="middle">8</text>
<line x1="440.8" y1="113.4" x2="488.8" y2="113.4" stroke="#000" stroke-width="1.2"/>
<text x="464.8" y="123.14" font-size="5.4" text-anchor="middle">After CTL (weeks)</text>
<path d="M414.5 94.4L426.63 94.4L438.76 94.4L450.89 94.4L463.02 94.4L475.15 35.6L487.28 78.5" fill="none" stroke="#000" stroke-width="1.15" stroke-linejoin="round"/>
<path d="M414.5 94L426.63 94L438.76 94L450.89 94L463.02 94L475.15 71.5L487.28 92.2" fill="none" stroke="#000" stroke-width="1.15" stroke-linejoin="round"/>
<path d="M414.5 94L426.63 94L438.76 94L450.89 94L463.02 94L475.15 38L487.28 79" fill="none" stroke="#000" stroke-width="1.15" stroke-linejoin="round"/>
<path d="M414.5 91.6L426.63 93.5L438.76 92.5L450.89 92.5L463.02 93.5L475.15 82.6L487.28 88.8" fill="none" stroke="#000" stroke-width="1.15" stroke-linejoin="round"/>
<rect x="411.55" y="91.45" width="5.9" height="5.9" fill="#000"/>
<rect x="423.68" y="91.45" width="5.9" height="5.9" fill="#000"/>
<rect x="435.81" y="91.45" width="5.9" height="5.9" fill="#000"/>
<rect x="447.94" y="91.45" width="5.9" height="5.9" fill="#000"/>
<rect x="460.07" y="91.45" width="5.9" height="5.9" fill="#000"/>
<rect x="472.2" y="32.65" width="5.9" height="5.9" fill="#000"/>
<rect x="484.33" y="75.55" width="5.9" height="5.9" fill="#000"/>
<path d="M411 94L414.5 91L418 94L414.5 97Z" fill="#000"/>
<path d="M423.13 94L426.63 91L430.13 94L426.63 97Z" fill="#000"/>
<path d="M435.26 94L438.76 91L442.26 94L438.76 97Z" fill="#000"/>
<path d="M447.39 94L450.89 91L454.39 94L450.89 97Z" fill="#000"/>
<path d="M459.52 94L463.02 91L466.52 94L463.02 97Z" fill="#000"/>
<path d="M471.65 71.5L475.15 68.5L478.65 71.5L475.15 74.5Z" fill="#000"/>
<path d="M483.78 92.2L487.28 89.2L490.78 92.2L487.28 95.2Z" fill="#000"/>
<path d="M411.3 96.56L414.5 91.12L417.7 96.56Z" fill="#000"/>
<path d="M423.43 96.56L426.63 91.12L429.83 96.56Z" fill="#000"/>
<path d="M435.56 96.56L438.76 91.12L441.96 96.56Z" fill="#000"/>
<path d="M447.69 96.56L450.89 91.12L454.09 96.56Z" fill="#000"/>
<path d="M459.82 96.56L463.02 91.12L466.22 96.56Z" fill="#000"/>
<path d="M471.95 40.56L475.15 35.12L478.35 40.56Z" fill="#000"/>
<path d="M484.08 81.56L487.28 76.12L490.48 81.56Z" fill="#000"/>
<rect x="412" y="89.1" width="5" height="5" fill="#fff" stroke="#000" stroke-width="1.0"/>
<rect x="424.13" y="91" width="5" height="5" fill="#fff" stroke="#000" stroke-width="1.0"/>
<rect x="436.26" y="90" width="5" height="5" fill="#fff" stroke="#000" stroke-width="1.0"/>
<rect x="448.39" y="90" width="5" height="5" fill="#fff" stroke="#000" stroke-width="1.0"/>
<rect x="460.52" y="91" width="5" height="5" fill="#fff" stroke="#000" stroke-width="1.0"/>
<rect x="472.65" y="80.1" width="5" height="5" fill="#fff" stroke="#000" stroke-width="1.0"/>
<rect x="484.78" y="86.3" width="5" height="5" fill="#fff" stroke="#000" stroke-width="1.0"/>
<line x1="420.2" y1="15.5" x2="436.8" y2="15.5" stroke="#000" stroke-width="1.0"/>
<rect x="426.22" y="13.02" width="4.96" height="4.96" fill="#000"/>
<text x="438.6" y="17.44" font-size="5.4" text-anchor="start">AVF</text>
<line x1="420.2" y1="24.2" x2="436.8" y2="24.2" stroke="#000" stroke-width="1.0"/>
<path d="M425.76 24.2L428.7 21.68L431.64 24.2L428.7 26.72Z" fill="#000"/>
<text x="438.6" y="26.14" font-size="5.4" text-anchor="start">TYS</text>
<line x1="420.2" y1="32.9" x2="436.8" y2="32.9" stroke="#000" stroke-width="1.0"/>
<path d="M426.01 35.05L428.7 30.48L431.39 35.05Z" fill="#000"/>
<text x="438.6" y="34.84" font-size="5.4" text-anchor="start">IVT</text>
<line x1="420.2" y1="41.5" x2="436.8" y2="41.5" stroke="#000" stroke-width="1.0"/>
<rect x="426.6" y="39.4" width="4.2" height="4.2" fill="#fff" stroke="#000" stroke-width="1.0"/>
<text x="438.6" y="43.44" font-size="5.4" text-anchor="start">pp65</text>
<text x="390.02" y="58.3" font-size="5.6" text-anchor="middle" transform="rotate(-90 390.02 58.3)">SFC (EBV)/mL whole blood</text>
<text x="513.42" y="59.6" font-size="5.6" text-anchor="middle" transform="rotate(-90 513.42 59.6)">SFC (pp65)/mL whole blood</text>
<text x="310" y="147.12" font-size="7.0" text-anchor="middle" font-weight="bold">P1560</text>
<line x1="268.4" y1="234.9" x2="268.4" y2="168.1" stroke="#000" stroke-width="1.1"/>
<line x1="266.6" y1="234.9" x2="268.4" y2="234.9" stroke="#000" stroke-width="0.8"/>
<text x="264.6" y="236.81" font-size="5.3" text-anchor="end">0</text>
<line x1="266.6" y1="218.28" x2="268.4" y2="218.28" stroke="#000" stroke-width="0.8"/>
<text x="264.6" y="220.18" font-size="5.3" text-anchor="end">5</text>
<line x1="266.6" y1="201.65" x2="268.4" y2="201.65" stroke="#000" stroke-width="0.8"/>
<text x="264.6" y="203.56" font-size="5.3" text-anchor="end">10</text>
<line x1="266.6" y1="185.03" x2="268.4" y2="185.03" stroke="#000" stroke-width="0.8"/>
<text x="264.6" y="186.93" font-size="5.3" text-anchor="end">15</text>
<line x1="266.6" y1="168.4" x2="268.4" y2="168.4" stroke="#000" stroke-width="0.8"/>
<text x="264.6" y="170.31" font-size="5.3" text-anchor="end">20</text>
<line x1="268.4" y1="234.9" x2="353.3" y2="234.9" stroke="#000" stroke-width="1.1"/>
<line x1="274.7" y1="234.9" x2="274.7" y2="236.4" stroke="#000" stroke-width="0.7"/>
<line x1="286.83" y1="234.9" x2="286.83" y2="236.4" stroke="#000" stroke-width="0.7"/>
<line x1="298.96" y1="234.9" x2="298.96" y2="236.4" stroke="#000" stroke-width="0.7"/>
<line x1="311.09" y1="234.9" x2="311.09" y2="236.4" stroke="#000" stroke-width="0.7"/>
<line x1="323.22" y1="234.9" x2="323.22" y2="236.4" stroke="#000" stroke-width="0.7"/>
<line x1="335.35" y1="234.9" x2="335.35" y2="236.4" stroke="#000" stroke-width="0.7"/>
<line x1="347.48" y1="234.9" x2="347.48" y2="236.4" stroke="#000" stroke-width="0.7"/>
<text x="272.76" y="244.8" font-size="5.4" text-anchor="start" transform="rotate(90 272.76 244.8)">Before MAb</text>
<text x="284.96" y="244.8" font-size="5.4" text-anchor="start" transform="rotate(90 284.96 244.8)">Before CTL</text>
<text x="299.4" y="248.41" font-size="5.3" text-anchor="middle">1</text>
<text x="311.8" y="248.41" font-size="5.3" text-anchor="middle">2</text>
<text x="324.2" y="248.41" font-size="5.3" text-anchor="middle">4</text>
<text x="336.6" y="248.41" font-size="5.3" text-anchor="middle">6</text>
<text x="349" y="248.41" font-size="5.3" text-anchor="middle">8</text>
<line x1="300.1" y1="253.9" x2="348.5" y2="253.9" stroke="#000" stroke-width="1.2"/>
<text x="324.3" y="263.14" font-size="5.4" text-anchor="middle">After CTL (weeks)</text>
<path d="M274.7 225.3L286.83 229.9L298.96 228.6L311.09 233.6L323.22 221.6L335.35 220.3L347.48 207.8" fill="none" stroke="#000" stroke-width="1.15" stroke-linejoin="round"/>
<path d="M271.2 225.3L274.7 222.3L278.2 225.3L274.7 228.3Z" fill="#000"/>
<path d="M283.33 229.9L286.83 226.9L290.33 229.9L286.83 232.9Z" fill="#000"/>
<path d="M295.46 228.6L298.96 225.6L302.46 228.6L298.96 231.6Z" fill="#000"/>
<path d="M307.59 233.6L311.09 230.6L314.59 233.6L311.09 236.6Z" fill="#000"/>
<path d="M319.72 221.6L323.22 218.6L326.72 221.6L323.22 224.6Z" fill="#000"/>
<path d="M331.85 220.3L335.35 217.3L338.85 220.3L335.35 223.3Z" fill="#000"/>
<path d="M343.98 207.8L347.48 204.8L350.98 207.8L347.48 210.8Z" fill="#000"/>
<line x1="273.9" y1="156.3" x2="291.5" y2="156.3" stroke="#000" stroke-width="1.0"/>
<path d="M279.26 156.3L282.2 153.78L285.14 156.3L282.2 158.82Z" fill="#000"/>
<text x="295.3" y="158.24" font-size="5.4" text-anchor="start">PYL</text>
<text x="249.42" y="202" font-size="5.6" text-anchor="middle" transform="rotate(-90 249.42 202)">SFC (EBV)/mL whole blood</text>
<text x="459.8" y="146.82" font-size="7.0" text-anchor="middle" font-weight="bold">P1668</text>
<line x1="409.6" y1="235.9" x2="409.6" y2="166.9" stroke="#000" stroke-width="1.1"/>
<line x1="407.8" y1="235.9" x2="409.6" y2="235.9" stroke="#000" stroke-width="0.8"/>
<text x="405.8" y="237.81" font-size="5.3" text-anchor="end">0</text>
<line x1="407.8" y1="213" x2="409.6" y2="213" stroke="#000" stroke-width="0.8"/>
<text x="405.8" y="214.91" font-size="5.3" text-anchor="end">10</text>
<line x1="407.8" y1="190.1" x2="409.6" y2="190.1" stroke="#000" stroke-width="0.8"/>
<text x="405.8" y="192.01" font-size="5.3" text-anchor="end">20</text>
<line x1="407.8" y1="167.2" x2="409.6" y2="167.2" stroke="#000" stroke-width="0.8"/>
<text x="405.8" y="169.11" font-size="5.3" text-anchor="end">30</text>
<line x1="495.6" y1="235.9" x2="495.6" y2="166.9" stroke="#000" stroke-width="1.1"/>
<line x1="495.6" y1="235.9" x2="497.4" y2="235.9" stroke="#000" stroke-width="0.8"/>
<text x="499.4" y="237.81" font-size="5.3" text-anchor="start">0</text>
<line x1="495.6" y1="218.72" x2="497.4" y2="218.72" stroke="#000" stroke-width="0.8"/>
<text x="499.4" y="220.63" font-size="5.3" text-anchor="start">50</text>
<line x1="495.6" y1="201.55" x2="497.4" y2="201.55" stroke="#000" stroke-width="0.8"/>
<text x="499.4" y="203.46" font-size="5.3" text-anchor="start">100</text>
<line x1="495.6" y1="184.38" x2="497.4" y2="184.38" stroke="#000" stroke-width="0.8"/>
<text x="499.4" y="186.28" font-size="5.3" text-anchor="start">150</text>
<line x1="495.6" y1="167.2" x2="497.4" y2="167.2" stroke="#000" stroke-width="0.8"/>
<text x="499.4" y="169.11" font-size="5.3" text-anchor="start">200</text>
<line x1="409.6" y1="235.9" x2="495.6" y2="235.9" stroke="#000" stroke-width="1.1"/>
<line x1="415.6" y1="235.9" x2="415.6" y2="237.4" stroke="#000" stroke-width="0.7"/>
<line x1="427.8" y1="235.9" x2="427.8" y2="237.4" stroke="#000" stroke-width="0.7"/>
<line x1="440" y1="235.9" x2="440" y2="237.4" stroke="#000" stroke-width="0.7"/>
<line x1="452.2" y1="235.9" x2="452.2" y2="237.4" stroke="#000" stroke-width="0.7"/>
<line x1="464.4" y1="235.9" x2="464.4" y2="237.4" stroke="#000" stroke-width="0.7"/>
<line x1="476.6" y1="235.9" x2="476.6" y2="237.4" stroke="#000" stroke-width="0.7"/>
<line x1="488.8" y1="235.9" x2="488.8" y2="237.4" stroke="#000" stroke-width="0.7"/>
<text x="413.16" y="244.8" font-size="5.4" text-anchor="start" transform="rotate(90 413.16 244.8)">Before MAb</text>
<text x="425.46" y="244.8" font-size="5.4" text-anchor="start" transform="rotate(90 425.46 244.8)">Before CTL</text>
<text x="440.3" y="248.41" font-size="5.3" text-anchor="middle">1</text>
<text x="452.65" y="248.41" font-size="5.3" text-anchor="middle">2</text>
<text x="465" y="248.41" font-size="5.3" text-anchor="middle">4</text>
<text x="477.35" y="248.41" font-size="5.3" text-anchor="middle">6</text>
<text x="489.7" y="248.41" font-size="5.3" text-anchor="middle">8</text>
<line x1="440.2" y1="254.1" x2="488.3" y2="254.1" stroke="#000" stroke-width="1.2"/>
<text x="464.25" y="263.14" font-size="5.4" text-anchor="middle">After CTL (weeks)</text>
<path d="M415.6 220.8M440 216.8L452.2 198.3L464.4 235L476.6 202.1" fill="none" stroke="#000" stroke-width="1.15" stroke-linejoin="round"/>
<path d="M415.6 234M440 235.4L452.2 191L464.4 235.4L476.6 235.4" fill="none" stroke="#000" stroke-width="1.15" stroke-linejoin="round"/>
<path d="M415.6 234.5M440 235.4L452.2 196.6L464.4 235.4L476.6 235.4" fill="none" stroke="#000" stroke-width="1.15" stroke-linejoin="round"/>
<path d="M415.6 225.4M440 235.4L452.2 220.6L464.4 233.5L476.6 231.9" fill="none" stroke="#000" stroke-width="1.15" stroke-linejoin="round"/>
<rect x="412.65" y="217.85" width="5.9" height="5.9" fill="#000"/>
<rect x="437.05" y="213.85" width="5.9" height="5.9" fill="#000"/>
<rect x="449.25" y="195.35" width="5.9" height="5.9" fill="#000"/>
<rect x="461.45" y="232.05" width="5.9" height="5.9" fill="#000"/>
<rect x="473.65" y="199.15" width="5.9" height="5.9" fill="#000"/>
<path d="M412.1 234L415.6 231L419.1 234L415.6 237Z" fill="#000"/>
<path d="M436.5 235.4L440 232.4L443.5 235.4L440 238.4Z" fill="#000"/>
<path d="M448.7 191L452.2 188L455.7 191L452.2 194Z" fill="#000"/>
<path d="M460.9 235.4L464.4 232.4L467.9 235.4L464.4 238.4Z" fill="#000"/>
<path d="M473.1 235.4L476.6 232.4L480.1 235.4L476.6 238.4Z" fill="#000"/>
<path d="M412.4 237.06L415.6 231.62L418.8 237.06Z" fill="#000"/>
<path d="M436.8 237.96L440 232.52L443.2 237.96Z" fill="#000"/>
<path d="M449 199.16L452.2 193.72L455.4 199.16Z" fill="#000"/>
<path d="M461.2 237.96L464.4 232.52L467.6 237.96Z" fill="#000"/>
<path d="M473.4 237.96L476.6 232.52L479.8 237.96Z" fill="#000"/>
<rect x="413.1" y="222.9" width="5" height="5" fill="#fff" stroke="#000" stroke-width="1.0"/>
<rect x="437.5" y="232.9" width="5" height="5" fill="#fff" stroke="#000" stroke-width="1.0"/>
<rect x="449.7" y="218.1" width="5" height="5" fill="#fff" stroke="#000" stroke-width="1.0"/>
<rect x="461.9" y="231" width="5" height="5" fill="#fff" stroke="#000" stroke-width="1.0"/>
<rect x="474.1" y="229.4" width="5" height="5" fill="#fff" stroke="#000" stroke-width="1.0"/>
<line x1="412.3" y1="156.8" x2="429" y2="156.8" stroke="#000" stroke-width="1.0"/>
<rect x="418.72" y="154.32" width="4.96" height="4.96" fill="#000"/>
<text x="432" y="158.74" font-size="5.4" text-anchor="start">RYS</text>
<line x1="412.3" y1="165.5" x2="429" y2="165.5" stroke="#000" stroke-width="1.0"/>
<path d="M418.26 165.5L421.2 162.98L424.14 165.5L421.2 168.02Z" fill="#000"/>
<text x="432" y="167.44" font-size="5.4" text-anchor="start">TYG</text>
<line x1="412.3" y1="174.4" x2="429" y2="174.4" stroke="#000" stroke-width="1.0"/>
<path d="M418.51 176.55L421.2 171.98L423.89 176.55Z" fill="#000"/>
<text x="432" y="176.34" font-size="5.4" text-anchor="start">PYL</text>
<line x1="412.3" y1="183.2" x2="429" y2="183.2" stroke="#000" stroke-width="1.0"/>
<rect x="419.1" y="181.1" width="4.2" height="4.2" fill="#fff" stroke="#000" stroke-width="1.0"/>
<text x="432" y="185.14" font-size="5.4" text-anchor="start">pp65</text>
<text x="392.72" y="200.9" font-size="5.6" text-anchor="middle" transform="rotate(-90 392.72 200.9)">SFC (EBV)/mL whole blood</text>
<text x="515.52" y="198.4" font-size="5.6" text-anchor="middle" transform="rotate(-90 515.52 198.4)">SFC (pp65)/mL whole blood</text>
<text x="302.5" y="290.12" font-size="7.0" text-anchor="middle" font-weight="bold">P1708</text>
<line x1="260.5" y1="376.8" x2="260.5" y2="309.3" stroke="#000" stroke-width="1.1"/>
<line x1="258.7" y1="376.8" x2="260.5" y2="376.8" stroke="#000" stroke-width="0.8"/>
<text x="256.7" y="378.71" font-size="5.3" text-anchor="end">0</text>
<line x1="258.7" y1="360" x2="260.5" y2="360" stroke="#000" stroke-width="0.8"/>
<text x="256.7" y="361.91" font-size="5.3" text-anchor="end">10</text>
<line x1="258.7" y1="343.2" x2="260.5" y2="343.2" stroke="#000" stroke-width="0.8"/>
<text x="256.7" y="345.11" font-size="5.3" text-anchor="end">20</text>
<line x1="258.7" y1="326.4" x2="260.5" y2="326.4" stroke="#000" stroke-width="0.8"/>
<text x="256.7" y="328.31" font-size="5.3" text-anchor="end">30</text>
<line x1="258.7" y1="309.6" x2="260.5" y2="309.6" stroke="#000" stroke-width="0.8"/>
<text x="256.7" y="311.51" font-size="5.3" text-anchor="end">40</text>
<line x1="345.2" y1="376.8" x2="345.2" y2="309.3" stroke="#000" stroke-width="1.1"/>
<line x1="345.2" y1="376.8" x2="347" y2="376.8" stroke="#000" stroke-width="0.8"/>
<text x="349" y="378.71" font-size="5.3" text-anchor="start">0</text>
<line x1="345.2" y1="363.36" x2="347" y2="363.36" stroke="#000" stroke-width="0.8"/>
<text x="349" y="365.27" font-size="5.3" text-anchor="start">100</text>
<line x1="345.2" y1="349.92" x2="347" y2="349.92" stroke="#000" stroke-width="0.8"/>
<text x="349" y="351.83" font-size="5.3" text-anchor="start">200</text>
<line x1="345.2" y1="336.48" x2="347" y2="336.48" stroke="#000" stroke-width="0.8"/>
<text x="349" y="338.39" font-size="5.3" text-anchor="start">300</text>
<line x1="345.2" y1="323.04" x2="347" y2="323.04" stroke="#000" stroke-width="0.8"/>
<text x="349" y="324.95" font-size="5.3" text-anchor="start">400</text>
<line x1="345.2" y1="309.6" x2="347" y2="309.6" stroke="#000" stroke-width="0.8"/>
<text x="349" y="311.51" font-size="5.3" text-anchor="start">500</text>
<line x1="260.5" y1="376.8" x2="345.2" y2="376.8" stroke="#000" stroke-width="1.1"/>
<line x1="266.3" y1="376.8" x2="266.3" y2="378.3" stroke="#000" stroke-width="0.7"/>
<line x1="278.42" y1="376.8" x2="278.42" y2="378.3" stroke="#000" stroke-width="0.7"/>
<line x1="290.54" y1="376.8" x2="290.54" y2="378.3" stroke="#000" stroke-width="0.7"/>
<line x1="302.66" y1="376.8" x2="302.66" y2="378.3" stroke="#000" stroke-width="0.7"/>
<line x1="314.78" y1="376.8" x2="314.78" y2="378.3" stroke="#000" stroke-width="0.7"/>
<line x1="326.9" y1="376.8" x2="326.9" y2="378.3" stroke="#000" stroke-width="0.7"/>
<line x1="339.02" y1="376.8" x2="339.02" y2="378.3" stroke="#000" stroke-width="0.7"/>
<text x="263.36" y="386.8" font-size="5.4" text-anchor="start" transform="rotate(90 263.36 386.8)">Before MAb</text>
<text x="275.86" y="386.8" font-size="5.4" text-anchor="start" transform="rotate(90 275.86 386.8)">Before CTL</text>
<text x="290.6" y="390.01" font-size="5.3" text-anchor="middle">1</text>
<text x="302.95" y="390.01" font-size="5.3" text-anchor="middle">2</text>
<text x="315.3" y="390.01" font-size="5.3" text-anchor="middle">4</text>
<text x="327.65" y="390.01" font-size="5.3" text-anchor="middle">6</text>
<text x="340" y="390.01" font-size="5.3" text-anchor="middle">8</text>
<line x1="291.3" y1="396" x2="339" y2="396" stroke="#000" stroke-width="1.2"/>
<text x="315.15" y="405.24" font-size="5.4" text-anchor="middle">After CTL (weeks)</text>
<path d="M266.3 332.9L278.42 374.4L290.54 376.4L302.66 360L314.78 374L326.9 374.4L339.02 360" fill="none" stroke="#000" stroke-width="1.15" stroke-linejoin="round"/>
<path d="M266.3 321.6L278.42 374.4L290.54 367.6L302.66 367.6L314.78 373.7L326.9 318.9L339.02 365.8" fill="none" stroke="#000" stroke-width="1.15" stroke-linejoin="round"/>
<rect x="263.35" y="329.95" width="5.9" height="5.9" fill="#000"/>
<rect x="275.47" y="371.45" width="5.9" height="5.9" fill="#000"/>
<rect x="287.59" y="373.45" width="5.9" height="5.9" fill="#000"/>
<rect x="299.71" y="357.05" width="5.9" height="5.9" fill="#000"/>
<rect x="311.83" y="371.05" width="5.9" height="5.9" fill="#000"/>
<rect x="323.95" y="371.45" width="5.9" height="5.9" fill="#000"/>
<rect x="336.07" y="357.05" width="5.9" height="5.9" fill="#000"/>
<rect x="263.8" y="319.1" width="5" height="5" fill="#fff" stroke="#000" stroke-width="1.0"/>
<rect x="275.92" y="371.9" width="5" height="5" fill="#fff" stroke="#000" stroke-width="1.0"/>
<rect x="288.04" y="365.1" width="5" height="5" fill="#fff" stroke="#000" stroke-width="1.0"/>
<rect x="300.16" y="365.1" width="5" height="5" fill="#fff" stroke="#000" stroke-width="1.0"/>
<rect x="312.28" y="371.2" width="5" height="5" fill="#fff" stroke="#000" stroke-width="1.0"/>
<rect x="324.4" y="316.4" width="5" height="5" fill="#fff" stroke="#000" stroke-width="1.0"/>
<rect x="336.52" y="363.3" width="5" height="5" fill="#fff" stroke="#000" stroke-width="1.0"/>
<line x1="273.5" y1="303.2" x2="289.7" y2="303.2" stroke="#000" stroke-width="1.0"/>
<rect x="279.22" y="300.72" width="4.96" height="4.96" fill="#000"/>
<text x="292" y="305.14" font-size="5.4" text-anchor="start">RRt</text>
<line x1="273.5" y1="312.2" x2="289.7" y2="312.2" stroke="#000" stroke-width="1.0"/>
<rect x="279.6" y="310.1" width="4.2" height="4.2" fill="#fff" stroke="#000" stroke-width="1.0"/>
<text x="292" y="314.14" font-size="5.4" text-anchor="start">pp65</text>
<text x="243.52" y="341.6" font-size="5.6" text-anchor="middle" transform="rotate(-90 243.52 341.6)">SFC (EBV)/mL whole blood</text>
<text x="366.62" y="341" font-size="5.6" text-anchor="middle" transform="rotate(-90 366.62 341)">SFC (pp65)/mL whole blood</text>
<text x="450.3" y="287.32" font-size="7.0" text-anchor="middle" font-weight="bold">P1740</text>
<line x1="410.5" y1="375.3" x2="410.5" y2="308" stroke="#000" stroke-width="1.1"/>
<line x1="408.7" y1="375.3" x2="410.5" y2="375.3" stroke="#000" stroke-width="0.8"/>
<text x="406.7" y="377.21" font-size="5.3" text-anchor="end">0</text>
<line x1="408.7" y1="364.13" x2="410.5" y2="364.13" stroke="#000" stroke-width="0.8"/>
<text x="406.7" y="366.04" font-size="5.3" text-anchor="end">200</text>
<line x1="408.7" y1="352.97" x2="410.5" y2="352.97" stroke="#000" stroke-width="0.8"/>
<text x="406.7" y="354.87" font-size="5.3" text-anchor="end">400</text>
<line x1="408.7" y1="341.8" x2="410.5" y2="341.8" stroke="#000" stroke-width="0.8"/>
<text x="406.7" y="343.71" font-size="5.3" text-anchor="end">600</text>
<line x1="408.7" y1="330.63" x2="410.5" y2="330.63" stroke="#000" stroke-width="0.8"/>
<text x="406.7" y="332.54" font-size="5.3" text-anchor="end">800</text>
<line x1="408.7" y1="319.47" x2="410.5" y2="319.47" stroke="#000" stroke-width="0.8"/>
<text x="406.7" y="321.37" font-size="5.3" text-anchor="end">1000</text>
<line x1="408.7" y1="308.3" x2="410.5" y2="308.3" stroke="#000" stroke-width="0.8"/>
<text x="406.7" y="310.21" font-size="5.3" text-anchor="end">1200</text>
<line x1="492.3" y1="375.3" x2="492.3" y2="308" stroke="#000" stroke-width="1.1"/>
<line x1="492.3" y1="375.3" x2="494.1" y2="375.3" stroke="#000" stroke-width="0.8"/>
<text x="496.1" y="377.21" font-size="5.3" text-anchor="start">0</text>
<line x1="492.3" y1="361.9" x2="494.1" y2="361.9" stroke="#000" stroke-width="0.8"/>
<text x="496.1" y="363.81" font-size="5.3" text-anchor="start">20</text>
<line x1="492.3" y1="348.5" x2="494.1" y2="348.5" stroke="#000" stroke-width="0.8"/>
<text x="496.1" y="350.41" font-size="5.3" text-anchor="start">40</text>
<line x1="492.3" y1="335.1" x2="494.1" y2="335.1" stroke="#000" stroke-width="0.8"/>
<text x="496.1" y="337.01" font-size="5.3" text-anchor="start">60</text>
<line x1="492.3" y1="321.7" x2="494.1" y2="321.7" stroke="#000" stroke-width="0.8"/>
<text x="496.1" y="323.61" font-size="5.3" text-anchor="start">80</text>
<line x1="492.3" y1="308.3" x2="494.1" y2="308.3" stroke="#000" stroke-width="0.8"/>
<text x="496.1" y="310.21" font-size="5.3" text-anchor="start">100</text>
<line x1="410.5" y1="375.3" x2="492.3" y2="375.3" stroke="#000" stroke-width="1.1"/>
<line x1="415.6" y1="375.3" x2="415.6" y2="376.8" stroke="#000" stroke-width="0.7"/>
<line x1="427.38" y1="375.3" x2="427.38" y2="376.8" stroke="#000" stroke-width="0.7"/>
<line x1="439.16" y1="375.3" x2="439.16" y2="376.8" stroke="#000" stroke-width="0.7"/>
<line x1="450.94" y1="375.3" x2="450.94" y2="376.8" stroke="#000" stroke-width="0.7"/>
<line x1="462.72" y1="375.3" x2="462.72" y2="376.8" stroke="#000" stroke-width="0.7"/>
<line x1="474.5" y1="375.3" x2="474.5" y2="376.8" stroke="#000" stroke-width="0.7"/>
<line x1="486.28" y1="375.3" x2="486.28" y2="376.8" stroke="#000" stroke-width="0.7"/>
<text x="410.86" y="385" font-size="5.4" text-anchor="start" transform="rotate(90 410.86 385)">Before MAb</text>
<text x="423.76" y="385" font-size="5.4" text-anchor="start" transform="rotate(90 423.76 385)">Before CTL</text>
<text x="438.3" y="389.01" font-size="5.3" text-anchor="middle">1</text>
<text x="450.47" y="389.01" font-size="5.3" text-anchor="middle">2</text>
<text x="462.64" y="389.01" font-size="5.3" text-anchor="middle">4</text>
<text x="474.81" y="389.01" font-size="5.3" text-anchor="middle">6</text>
<text x="486.98" y="389.01" font-size="5.3" text-anchor="middle">8</text>
<line x1="438.8" y1="394.9" x2="486.9" y2="394.9" stroke="#000" stroke-width="1.2"/>
<text x="462.85" y="403.94" font-size="5.4" text-anchor="middle">After CTL (weeks)</text>
<path d="M415.6 359L427.38 374.5L439.16 320.1L450.94 340.4L462.72 336.5L486.28 319.2" fill="none" stroke="#000" stroke-width="1.15" stroke-linejoin="round"/>
<path d="M415.6 347.1L427.38 374.5L439.16 347.1L450.94 364.5L462.72 343.1L486.28 334" fill="none" stroke="#000" stroke-width="1.15" stroke-linejoin="round"/>
<path d="M415.6 372.7L427.38 374.5L439.16 373.6L450.94 372.7L462.72 359.9L486.28 365" fill="none" stroke="#000" stroke-width="1.15" stroke-linejoin="round"/>
<path d="M415.6 367.8L427.38 374.5L439.16 357.2L450.94 372.7L462.72 361.7L486.28 368.1" fill="none" stroke="#000" stroke-width="1.15" stroke-linejoin="round"/>
<rect x="412.65" y="356.05" width="5.9" height="5.9" fill="#000"/>
<rect x="424.43" y="371.55" width="5.9" height="5.9" fill="#000"/>
<rect x="436.21" y="317.15" width="5.9" height="5.9" fill="#000"/>
<rect x="447.99" y="337.45" width="5.9" height="5.9" fill="#000"/>
<rect x="459.77" y="333.55" width="5.9" height="5.9" fill="#000"/>
<rect x="483.33" y="316.25" width="5.9" height="5.9" fill="#000"/>
<path d="M412.1 347.1L415.6 344.1L419.1 347.1L415.6 350.1Z" fill="#000"/>
<path d="M423.88 374.5L427.38 371.5L430.88 374.5L427.38 377.5Z" fill="#000"/>
<path d="M435.66 347.1L439.16 344.1L442.66 347.1L439.16 350.1Z" fill="#000"/>
<path d="M447.44 364.5L450.94 361.5L454.44 364.5L450.94 367.5Z" fill="#000"/>
<path d="M459.22 343.1L462.72 340.1L466.22 343.1L462.72 346.1Z" fill="#000"/>
<path d="M482.78 334L486.28 331L489.78 334L486.28 337Z" fill="#000"/>
<path d="M412.4 375.26L415.6 369.82L418.8 375.26Z" fill="#000"/>
<path d="M424.18 377.06L427.38 371.62L430.58 377.06Z" fill="#000"/>
<path d="M435.96 376.16L439.16 370.72L442.36 376.16Z" fill="#000"/>
<path d="M447.74 375.26L450.94 369.82L454.14 375.26Z" fill="#000"/>
<path d="M459.52 362.46L462.72 357.02L465.92 362.46Z" fill="#000"/>
<path d="M483.08 367.56L486.28 362.12L489.48 367.56Z" fill="#000"/>
<circle cx="415.6" cy="367.8" r="2.85" fill="#000"/>
<circle cx="427.38" cy="374.5" r="2.85" fill="#000"/>
<circle cx="439.16" cy="357.2" r="2.85" fill="#000"/>
<circle cx="450.94" cy="372.7" r="2.85" fill="#000"/>
<circle cx="462.72" cy="361.7" r="2.85" fill="#000"/>
<circle cx="486.28" cy="368.1" r="2.85" fill="#000"/>
<line x1="418.6" y1="296.5" x2="436" y2="296.5" stroke="#000" stroke-width="1.0"/>
<rect x="424.72" y="294.02" width="4.96" height="4.96" fill="#000"/>
<text x="437.6" y="298.44" font-size="5.4" text-anchor="start">GLC</text>
<line x1="456.8" y1="296.5" x2="474.2" y2="296.5" stroke="#000" stroke-width="1.0"/>
<path d="M462.56 296.5L465.5 293.98L468.44 296.5L465.5 299.02Z" fill="#000"/>
<text x="476" y="298.44" font-size="5.4" text-anchor="start">CLG</text>
<line x1="418.6" y1="309.5" x2="436" y2="309.5" stroke="#000" stroke-width="1.0"/>
<path d="M424.51 311.65L427.2 307.08L429.89 311.65Z" fill="#000"/>
<text x="437.6" y="311.44" font-size="5.4" text-anchor="start">YVL</text>
<line x1="456.8" y1="309.5" x2="474.2" y2="309.5" stroke="#000" stroke-width="1.0"/>
<circle cx="465.5" cy="309.5" r="2.39" fill="#000"/>
<text x="476" y="311.44" font-size="5.4" text-anchor="start">FLY</text>
<text x="391.92" y="343" font-size="5.6" text-anchor="middle" transform="rotate(-90 391.92 343)">SFC (EBV)/mL whole blood</text>
<text x="514.32" y="339" font-size="5.6" text-anchor="middle" transform="rotate(-90 514.32 339)">SFC (CLG, FLY, YVL)/mL whole blood</text>
<text x="306.4" y="431.12" font-size="7.0" text-anchor="middle" font-weight="bold">P1790</text>
<line x1="265.4" y1="519" x2="265.4" y2="451" stroke="#000" stroke-width="1.1"/>
<line x1="263.6" y1="519" x2="265.4" y2="519" stroke="#000" stroke-width="0.8"/>
<text x="261.6" y="520.91" font-size="5.3" text-anchor="end">0</text>
<line x1="263.6" y1="502.07" x2="265.4" y2="502.07" stroke="#000" stroke-width="0.8"/>
<text x="261.6" y="503.98" font-size="5.3" text-anchor="end">50</text>
<line x1="263.6" y1="485.15" x2="265.4" y2="485.15" stroke="#000" stroke-width="0.8"/>
<text x="261.6" y="487.06" font-size="5.3" text-anchor="end">100</text>
<line x1="263.6" y1="468.23" x2="265.4" y2="468.23" stroke="#000" stroke-width="0.8"/>
<text x="261.6" y="470.13" font-size="5.3" text-anchor="end">150</text>
<line x1="263.6" y1="451.3" x2="265.4" y2="451.3" stroke="#000" stroke-width="0.8"/>
<text x="261.6" y="453.21" font-size="5.3" text-anchor="end">200</text>
<line x1="351.6" y1="519" x2="351.6" y2="451" stroke="#000" stroke-width="1.1"/>
<line x1="351.6" y1="519" x2="353.4" y2="519" stroke="#000" stroke-width="0.8"/>
<text x="355.4" y="520.91" font-size="5.3" text-anchor="start">0</text>
<line x1="351.6" y1="502.07" x2="353.4" y2="502.07" stroke="#000" stroke-width="0.8"/>
<text x="355.4" y="503.98" font-size="5.3" text-anchor="start">50</text>
<line x1="351.6" y1="485.15" x2="353.4" y2="485.15" stroke="#000" stroke-width="0.8"/>
<text x="355.4" y="487.06" font-size="5.3" text-anchor="start">100</text>
<line x1="351.6" y1="468.23" x2="353.4" y2="468.23" stroke="#000" stroke-width="0.8"/>
<text x="355.4" y="470.13" font-size="5.3" text-anchor="start">150</text>
<line x1="351.6" y1="451.3" x2="353.4" y2="451.3" stroke="#000" stroke-width="0.8"/>
<text x="355.4" y="453.21" font-size="5.3" text-anchor="start">200</text>
<line x1="265.4" y1="519" x2="351.6" y2="519" stroke="#000" stroke-width="1.1"/>
<line x1="271.1" y1="519" x2="271.1" y2="520.5" stroke="#000" stroke-width="0.7"/>
<line x1="283.4" y1="519" x2="283.4" y2="520.5" stroke="#000" stroke-width="0.7"/>
<line x1="295.7" y1="519" x2="295.7" y2="520.5" stroke="#000" stroke-width="0.7"/>
<line x1="308" y1="519" x2="308" y2="520.5" stroke="#000" stroke-width="0.7"/>
<line x1="320.3" y1="519" x2="320.3" y2="520.5" stroke="#000" stroke-width="0.7"/>
<line x1="332.6" y1="519" x2="332.6" y2="520.5" stroke="#000" stroke-width="0.7"/>
<line x1="344.9" y1="519" x2="344.9" y2="520.5" stroke="#000" stroke-width="0.7"/>
<text x="268.96" y="529" font-size="5.4" text-anchor="start" transform="rotate(90 268.96 529)">Before MAb</text>
<text x="281.86" y="529" font-size="5.4" text-anchor="start" transform="rotate(90 281.86 529)">Before CTL</text>
<text x="296.1" y="532.61" font-size="5.3" text-anchor="middle">1</text>
<text x="308.39" y="532.61" font-size="5.3" text-anchor="middle">2</text>
<text x="320.68" y="532.61" font-size="5.3" text-anchor="middle">4</text>
<text x="332.97" y="532.61" font-size="5.3" text-anchor="middle">6</text>
<text x="345.26" y="532.61" font-size="5.3" text-anchor="middle">8</text>
<line x1="296.3" y1="538" x2="344.9" y2="538" stroke="#000" stroke-width="1.2"/>
<text x="320.6" y="547.54" font-size="5.4" text-anchor="middle">After CTL (weeks)</text>
<path d="M271.1 459.3L283.4 513L295.7 457L308 507.8L320.3 483.4L332.6 498.5L344.9 489.8" fill="none" stroke="#000" stroke-width="1.15" stroke-linejoin="round"/>
<path d="M271.1 508.5L283.4 518.9L295.7 508.5L308 518.9L320.3 516.5L332.6 517.7L344.9 517" fill="none" stroke="#000" stroke-width="1.15" stroke-linejoin="round"/>
<path d="M271.1 467.4L283.4 515.9L295.7 490.5L308 513.5L320.3 510.8L332.6 503.9L344.9 483.5" fill="none" stroke="#000" stroke-width="1.15" stroke-linejoin="round"/>
<rect x="268.15" y="456.35" width="5.9" height="5.9" fill="#000"/>
<rect x="280.45" y="510.05" width="5.9" height="5.9" fill="#000"/>
<rect x="292.75" y="454.05" width="5.9" height="5.9" fill="#000"/>
<rect x="305.05" y="504.85" width="5.9" height="5.9" fill="#000"/>
<rect x="317.35" y="480.45" width="5.9" height="5.9" fill="#000"/>
<rect x="329.65" y="495.55" width="5.9" height="5.9" fill="#000"/>
<rect x="341.95" y="486.85" width="5.9" height="5.9" fill="#000"/>
<path d="M267.6 508.5L271.1 505.5L274.6 508.5L271.1 511.5Z" fill="#000"/>
<path d="M279.9 518.9L283.4 515.9L286.9 518.9L283.4 521.9Z" fill="#000"/>
<path d="M292.2 508.5L295.7 505.5L299.2 508.5L295.7 511.5Z" fill="#000"/>
<path d="M304.5 518.9L308 515.9L311.5 518.9L308 521.9Z" fill="#000"/>
<path d="M316.8 516.5L320.3 513.5L323.8 516.5L320.3 519.5Z" fill="#000"/>
<path d="M329.1 517.7L332.6 514.7L336.1 517.7L332.6 520.7Z" fill="#000"/>
<path d="M341.4 517L344.9 514L348.4 517L344.9 520Z" fill="#000"/>
<rect x="268.6" y="464.9" width="5" height="5" fill="#fff" stroke="#000" stroke-width="1.0"/>
<rect x="280.9" y="513.4" width="5" height="5" fill="#fff" stroke="#000" stroke-width="1.0"/>
<rect x="293.2" y="488" width="5" height="5" fill="#fff" stroke="#000" stroke-width="1.0"/>
<rect x="305.5" y="511" width="5" height="5" fill="#fff" stroke="#000" stroke-width="1.0"/>
<rect x="317.8" y="508.3" width="5" height="5" fill="#fff" stroke="#000" stroke-width="1.0"/>
<rect x="330.1" y="501.4" width="5" height="5" fill="#fff" stroke="#000" stroke-width="1.0"/>
<rect x="342.4" y="481" width="5" height="5" fill="#fff" stroke="#000" stroke-width="1.0"/>
<line x1="306.7" y1="439.4" x2="322.8" y2="439.4" stroke="#000" stroke-width="1.0"/>
<rect x="312.72" y="436.92" width="4.96" height="4.96" fill="#000"/>
<text x="325.9" y="441.34" font-size="5.4" text-anchor="start">RAK</text>
<line x1="306.7" y1="447.9" x2="322.8" y2="447.9" stroke="#000" stroke-width="1.0"/>
<path d="M312.26 447.9L315.2 445.38L318.14 447.9L315.2 450.42Z" fill="#000"/>
<text x="325.9" y="449.84" font-size="5.4" text-anchor="start">VMS</text>
<line x1="306.7" y1="456.5" x2="322.8" y2="456.5" stroke="#000" stroke-width="1.0"/>
<rect x="313.1" y="454.4" width="4.2" height="4.2" fill="#fff" stroke="#000" stroke-width="1.0"/>
<text x="325.9" y="458.44" font-size="5.4" text-anchor="start">pp65</text>
<text x="248.62" y="484.1" font-size="5.6" text-anchor="middle" transform="rotate(-90 248.62 484.1)">SFC (EBV)/mL whole blood</text>
<text x="373.42" y="484" font-size="5.6" text-anchor="middle" transform="rotate(-90 373.42 484)">SFC (pp65)/mL whole blood</text>
<text x="459" y="431.92" font-size="7.0" text-anchor="middle" font-weight="bold">P1798</text>
<line x1="496.4" y1="519.2" x2="496.4" y2="450.9" stroke="#000" stroke-width="1.1"/>
<line x1="496.4" y1="519.2" x2="498.2" y2="519.2" stroke="#000" stroke-width="0.8"/>
<text x="500.2" y="521.11" font-size="5.3" text-anchor="start">0</text>
<line x1="496.4" y1="502.2" x2="498.2" y2="502.2" stroke="#000" stroke-width="0.8"/>
<text x="500.2" y="504.11" font-size="5.3" text-anchor="start">50</text>
<line x1="496.4" y1="485.2" x2="498.2" y2="485.2" stroke="#000" stroke-width="0.8"/>
<text x="500.2" y="487.11" font-size="5.3" text-anchor="start">100</text>
<line x1="496.4" y1="468.2" x2="498.2" y2="468.2" stroke="#000" stroke-width="0.8"/>
<text x="500.2" y="470.11" font-size="5.3" text-anchor="start">150</text>
<line x1="496.4" y1="451.2" x2="498.2" y2="451.2" stroke="#000" stroke-width="0.8"/>
<text x="500.2" y="453.11" font-size="5.3" text-anchor="start">200</text>
<line x1="413" y1="519.2" x2="496.4" y2="519.2" stroke="#000" stroke-width="1.1"/>
<line x1="418.8" y1="519.2" x2="418.8" y2="520.7" stroke="#000" stroke-width="0.7"/>
<line x1="430.78" y1="519.2" x2="430.78" y2="520.7" stroke="#000" stroke-width="0.7"/>
<line x1="442.76" y1="519.2" x2="442.76" y2="520.7" stroke="#000" stroke-width="0.7"/>
<line x1="454.74" y1="519.2" x2="454.74" y2="520.7" stroke="#000" stroke-width="0.7"/>
<line x1="466.72" y1="519.2" x2="466.72" y2="520.7" stroke="#000" stroke-width="0.7"/>
<line x1="478.7" y1="519.2" x2="478.7" y2="520.7" stroke="#000" stroke-width="0.7"/>
<line x1="490.68" y1="519.2" x2="490.68" y2="520.7" stroke="#000" stroke-width="0.7"/>
<text x="415.66" y="527" font-size="5.4" text-anchor="start" transform="rotate(90 415.66 527)">Before MAb</text>
<text x="428.66" y="527" font-size="5.4" text-anchor="start" transform="rotate(90 428.66 527)">Before CTL</text>
<text x="443.5" y="531.01" font-size="5.3" text-anchor="middle">1</text>
<text x="455.8" y="531.01" font-size="5.3" text-anchor="middle">2</text>
<text x="468.1" y="531.01" font-size="5.3" text-anchor="middle">4</text>
<text x="480.4" y="531.01" font-size="5.3" text-anchor="middle">6</text>
<text x="492.7" y="531.01" font-size="5.3" text-anchor="middle">8</text>
<line x1="444" y1="536.8" x2="491.9" y2="536.8" stroke="#000" stroke-width="1.2"/>
<text x="467.95" y="546.24" font-size="5.4" text-anchor="middle">After CTL (weeks)</text>
<path d="M418.8 473.8L430.78 518.7L442.76 503.2L454.74 489.9L466.72 519.2L478.7 518L490.68 519.2" fill="none" stroke="#000" stroke-width="1.15" stroke-linejoin="round"/>
<rect x="416.5" y="471.5" width="4.6" height="4.6" fill="#fff" stroke="#000" stroke-width="1.0"/>
<rect x="428.48" y="516.4" width="4.6" height="4.6" fill="#fff" stroke="#000" stroke-width="1.0"/>
<rect x="440.46" y="500.9" width="4.6" height="4.6" fill="#fff" stroke="#000" stroke-width="1.0"/>
<rect x="452.44" y="487.6" width="4.6" height="4.6" fill="#fff" stroke="#000" stroke-width="1.0"/>
<rect x="464.42" y="516.9" width="4.6" height="4.6" fill="#fff" stroke="#000" stroke-width="1.0"/>
<rect x="476.4" y="515.7" width="4.6" height="4.6" fill="#fff" stroke="#000" stroke-width="1.0"/>
<rect x="488.38" y="516.9" width="4.6" height="4.6" fill="#fff" stroke="#000" stroke-width="1.0"/>
<line x1="422.4" y1="452.6" x2="438" y2="452.6" stroke="#000" stroke-width="1.0"/>
<rect x="428.1" y="450.5" width="4.2" height="4.2" fill="#fff" stroke="#000" stroke-width="1.0"/>
<text x="440.8" y="454.54" font-size="5.4" text-anchor="start">pp65</text>
<text x="517.82" y="486" font-size="5.6" text-anchor="middle" transform="rotate(-90 517.82 486)">SFC (pp65)/mL whole blood</text>
<line x1="468.7" y1="454.6" x2="488.8" y2="454.6" stroke="#000" stroke-width="1.1"/>
<path d="M465.7 454.6L471.3 451.95L471.3 457.25Z" fill="#000"/>
<path d="M491.8 454.6L486.2 451.95L486.2 457.25Z" fill="#000"/>
<text x="478.8" y="460.14" font-size="5.4" text-anchor="middle">Local</text>
<text x="478.8" y="466.14" font-size="5.4" text-anchor="middle">XRT</text>
</g>
</svg></body></html>
